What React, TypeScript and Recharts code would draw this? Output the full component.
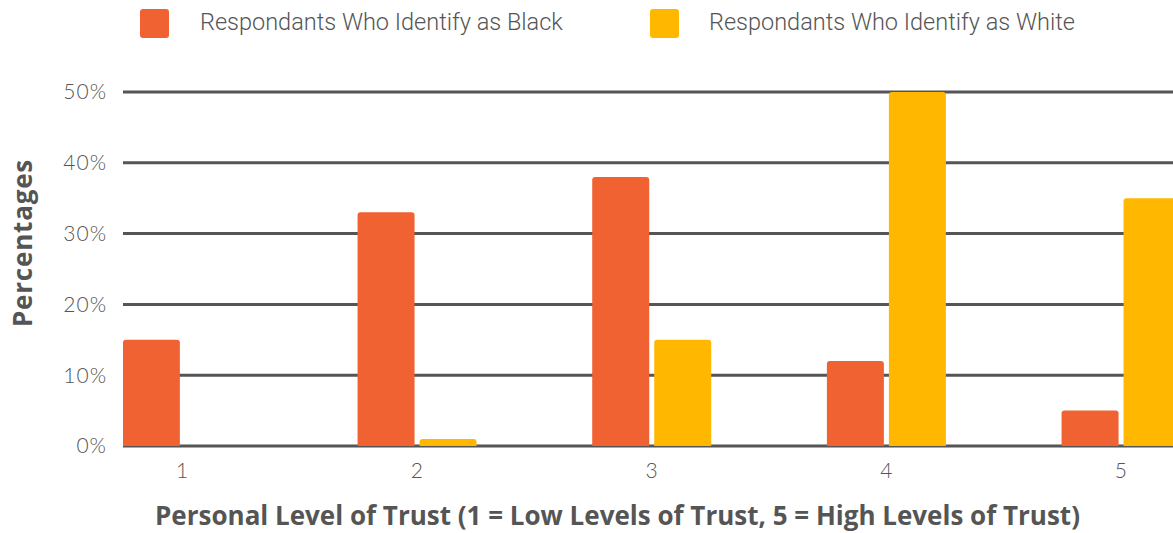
import React from 'react';
import { BarChart, Bar, XAxis, YAxis, CartesianGrid, Label } from 'recharts';

const levels = [1, 2, 3, 4, 5];
const blackPct = [15, 33, 38, 12, 5];
const whitePct = [0, 1, 15, 50, 35];
const yTicks = [0, 10, 20, 30, 40, 50];
const seriesNames = ['Respondants Who Identify as Black', 'Respondants Who Identify as White'];
const seriesColors = ['#F06232', '#FFB700'];
const xTitle = 'Personal Level of Trust (1 = Low Levels of Trust, 5 = High Levels of Trust)';
const yTitle = 'Percentages';

const data = levels.map((l, i) => ({ level: l, black: blackPct[i], white: whitePct[i] }));

const TEXT = '#555555';

function LegendItem({ color, label, left, textLeft }: { color: string; label: string; left: number; textLeft: number }) {
  return (
    <>
      <div
        style={{
          position: 'absolute',
          left,
          top: 9,
          width: 29,
          height: 29,
          background: color,
          borderRadius: 3,
        }}
      />
      <div
        style={{
          position: 'absolute',
          left: textLeft,
          top: 8,
          height: 29,
          lineHeight: '29px',
          fontFamily: 'Roboto, sans-serif',
          fontWeight: 300,
          fontSize: 23.5,
          color: TEXT,
          whiteSpace: 'nowrap',
        }}
      >
        {label}
      </div>
    </>
  );
}

export default function App() {
  return (
    <div
      style={{
        position: 'absolute',
        left: 0,
        top: 0,
        width: 1173,
        height: 533,
        overflow: 'hidden',
        background: '#ffffff',
      }}
    >
      <LegendItem color={seriesColors[0]} label={seriesNames[0]} left={140} textLeft={200} />
      <LegendItem color={seriesColors[1]} label={seriesNames[1]} left={650} textLeft={709} />
      <BarChart
        width={1173}
        height={533}
        data={data}
        margin={{ top: 92, right: 0, left: 0, bottom: 57 }}
        barGap={5}
        style={{ position: 'absolute', left: 0, top: 0 }}
      >
        <CartesianGrid vertical={false} stroke="#555555" strokeWidth={3} />
        <XAxis
          type="number"
          dataKey="level"
          domain={[0.7477, 5.222]}
          allowDataOverflow
          ticks={levels}
          height={30}
          axisLine={false}
          tickLine={false}
          tickSize={0}
          tickMargin={17}
          tick={{ fill: TEXT, fontSize: 21, fontFamily: 'Lato, sans-serif', fontWeight: 300 }}
        >
          <Label
            content={() => (
              <text
                x={617.5}
                y={525}
                textAnchor="middle"
                fill={TEXT}
                style={{ fontFamily: '"Open Sans", sans-serif', fontWeight: 700, fontSize: 26 }}
              >
                {xTitle}
              </text>
            )}
          />
        </XAxis>
        <YAxis
          width={123}
          domain={[0, 50]}
          ticks={yTicks}
          tickFormatter={(v: number) => `${v}%`}
          axisLine={false}
          tickLine={false}
          tickSize={0}
          tickMargin={16}
          tick={{ fill: TEXT, fontSize: 21, fontFamily: 'Lato, sans-serif', fontWeight: 300, letterSpacing: 1 }}
        >
          <Label
            content={() => (
              <text
                x={22}
                y={243}
                textAnchor="middle"
                dominantBaseline="central"
                transform="rotate(-90 22 243)"
                fill={TEXT}
                style={{ fontFamily: '"Open Sans", sans-serif', fontWeight: 700, fontSize: 26, letterSpacing: 0.8 }}
              >
                {yTitle}
              </text>
            )}
          />
        </YAxis>
        <Bar
          dataKey="black"
          name={seriesNames[0]}
          fill={seriesColors[0]}
          barSize={57}
          radius={[3, 3, 0, 0]}
          isAnimationActive={false}
        />
        <Bar
          dataKey="white"
          name={seriesNames[1]}
          fill={seriesColors[1]}
          barSize={57}
          radius={[3, 3, 0, 0]}
          isAnimationActive={false}
        />
      </BarChart>
    </div>
  );
}
